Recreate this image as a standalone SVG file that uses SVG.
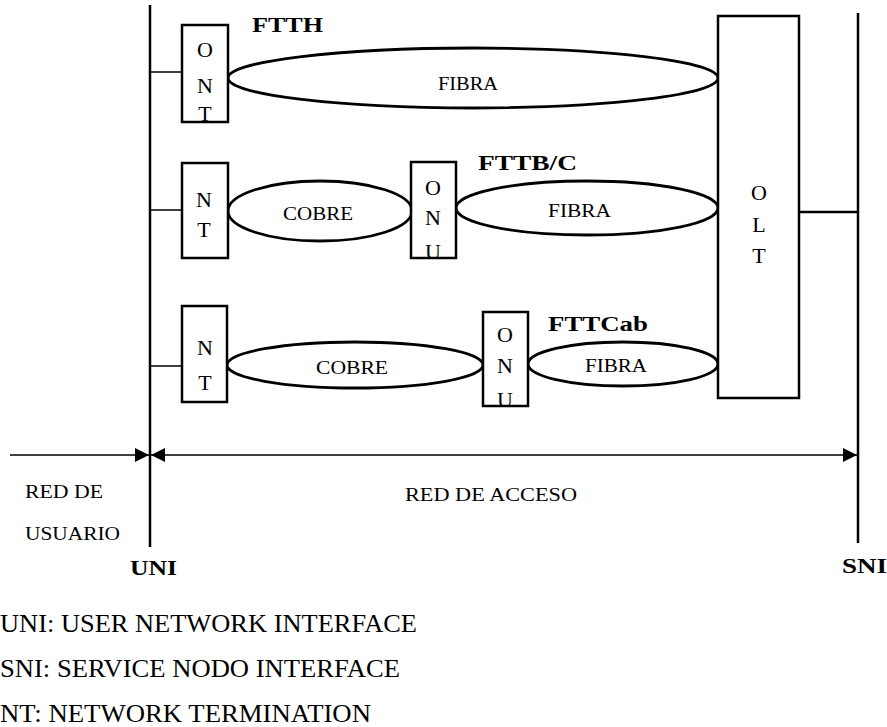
<svg xmlns="http://www.w3.org/2000/svg" width="887" height="727" viewBox="0 0 887 727">
<defs>
<style>
.box{fill:#fff;stroke:#000;stroke-width:2.5}
.ell{fill:#fff;stroke:#000;stroke-width:2.8}
.ln{stroke:#000;stroke-width:1.5;fill:none}
.bus{stroke:#000;stroke-width:2.5;fill:none}
.t{font-family:"Liberation Serif","Times New Roman",serif;fill:#000}
.lbl{font-size:19px}
.let{font-size:22px;text-anchor:middle}
.hd{font-size:22px;font-weight:bold}
.leg{font-size:26px}
</style>
<marker id="ah" viewBox="0 0 14 14" refX="14" refY="7" markerWidth="14" markerHeight="14" markerUnits="userSpaceOnUse" orient="auto-start-reverse">
<path d="M0,0 L14,7 L0,14 Z" fill="#000"/>
</marker>
</defs>
<rect width="887" height="727" fill="#fff"/>

<g id="connectors">
<line class="bus" x1="150" y1="5" x2="150" y2="547"/>
<line class="bus" x1="858" y1="13" x2="858" y2="543"/>
<line class="ln" x1="150" y1="72" x2="182" y2="72"/>
<line class="ln" x1="150" y1="210" x2="182" y2="210"/>
<line class="ln" x1="150" y1="366" x2="182" y2="366"/>
<line class="bus" x1="799" y1="212" x2="858" y2="212"/>
<line class="ln" x1="10" y1="455" x2="149" y2="455" marker-end="url(#ah)"/>
<line class="ln" x1="151" y1="455" x2="857" y2="455" marker-start="url(#ah)" marker-end="url(#ah)"/>
</g>

<g id="fibra1">
<ellipse class="ell" cx="473" cy="78" rx="245" ry="30"/>
<text class="t lbl" x="438" y="90" textLength="60" lengthAdjust="spacingAndGlyphs">FIBRA</text>
</g>
<g id="cobre2">
<ellipse class="ell" cx="320" cy="211" rx="92" ry="30"/>
<text class="t lbl" x="283" y="220" textLength="70" lengthAdjust="spacingAndGlyphs">COBRE</text>
</g>
<g id="fibra2">
<ellipse class="ell" cx="587" cy="208" rx="131" ry="27"/>
<text class="t lbl" x="548" y="217" textLength="63" lengthAdjust="spacingAndGlyphs">FIBRA</text>
</g>
<g id="cobre3">
<ellipse class="ell" cx="355" cy="365" rx="128" ry="23"/>
<text class="t lbl" x="316" y="374" textLength="72" lengthAdjust="spacingAndGlyphs">COBRE</text>
</g>
<g id="fibra3">
<ellipse class="ell" cx="623" cy="364" rx="95" ry="22"/>
<text class="t lbl" x="585" y="372" textLength="62" lengthAdjust="spacingAndGlyphs">FIBRA</text>
</g>

<g id="ont">
<rect class="box" x="182" y="25" width="46" height="97"/>
<text class="t let" x="205" y="57">O</text>
<text class="t let" x="205" y="93">N</text>
<text class="t let" x="205" y="121">T</text>
</g>
<g id="nt2">
<rect class="box" x="182" y="163" width="46" height="95"/>
<text class="t let" x="204" y="207">N</text>
<text class="t let" x="204" y="237">T</text>
</g>
<g id="onu2">
<rect class="box" x="411" y="162" width="45" height="96"/>
<text class="t let" x="433" y="195">O</text>
<text class="t let" x="433" y="225">N</text>
<text class="t let" x="433" y="259">U</text>
</g>
<g id="nt3">
<rect class="box" x="182" y="306" width="45" height="96"/>
<text class="t let" x="205" y="355">N</text>
<text class="t let" x="205" y="390">T</text>
</g>
<g id="onu3">
<rect class="box" x="483" y="312" width="45" height="94"/>
<text class="t let" x="505" y="342">O</text>
<text class="t let" x="505" y="373">N</text>
<text class="t let" x="505" y="407">U</text>
</g>
<g id="olt">
<rect class="box" x="718" y="16" width="81" height="382"/>
<text class="t let" x="759" y="200">O</text>
<text class="t let" x="759" y="232">L</text>
<text class="t let" x="759" y="263">T</text>
</g>

<g id="labels">
<text class="t hd" x="252" y="32" textLength="71" lengthAdjust="spacingAndGlyphs">FTTH</text>
<text class="t hd" x="478" y="170" textLength="99" lengthAdjust="spacingAndGlyphs">FTTB/C</text>
<text class="t hd" x="548" y="331" textLength="100" lengthAdjust="spacingAndGlyphs">FTTCab</text>
<text class="t lbl" x="25" y="498" textLength="78" lengthAdjust="spacingAndGlyphs">RED DE</text>
<text class="t lbl" x="25" y="540" textLength="95" lengthAdjust="spacingAndGlyphs">USUARIO</text>
<text class="t lbl" x="405" y="501" textLength="172" lengthAdjust="spacingAndGlyphs">RED DE ACCESO</text>
<text class="t hd" x="130" y="575" textLength="47" lengthAdjust="spacingAndGlyphs">UNI</text>
<text class="t hd" x="842" y="573" textLength="45" lengthAdjust="spacingAndGlyphs">SNI</text>
</g>

<g id="legend">
<text class="t leg" x="0" y="632" textLength="417" lengthAdjust="spacingAndGlyphs">UNI: USER NETWORK INTERFACE</text>
<text class="t leg" x="0" y="677" textLength="400" lengthAdjust="spacingAndGlyphs">SNI: SERVICE NODO INTERFACE</text>
<text class="t leg" x="0" y="722" textLength="371" lengthAdjust="spacingAndGlyphs">NT: NETWORK TERMINATION</text>
</g>
</svg>
